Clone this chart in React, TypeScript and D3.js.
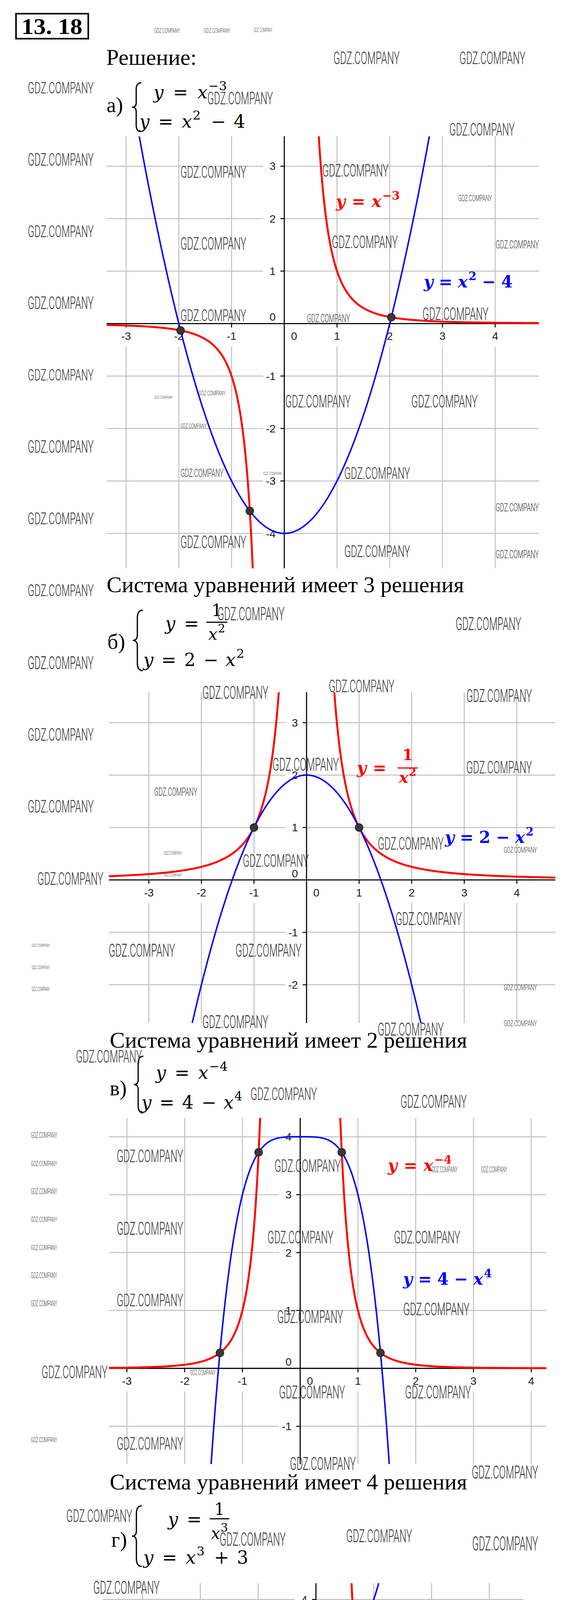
import React from 'react';
import * as d3 from 'd3';

const PAGE_W = 1457;
const PAGE_H = 5601;

// ---------- Chart а: y = x^-3, y = x^2 - 4 ----------
const xDomainA = [-3.37, 4.83];
const yDomainA = [-4.666, 3.569];
const xTicksA = [-3, -2, -1, 1, 2, 3, 4];
const yTicksA = [-4, -3, -2, -1, 1, 2, 3];
const pointsA = [[-1.966, -0.132], [2.03, 0.12], [-0.654, -3.572]];

// ---------- Chart б: y = 1/x^2, y = 2 - x^2 ----------
const xDomainB = [-3.759, 4.733];
const yDomainB = [-2.73, 3.581];
const xTicksB = [-3, -2, -1, 1, 2, 3, 4];
const yTicksB = [-2, -1, 1, 2, 3];
const pointsB = [[-1, 1], [1, 1]];

// ---------- Chart в: y = x^-4, y = 4 - x^4 ----------
const xDomainC = [-3.311, 4.262];
const yDomainC = [-1.653, 4.325];
const xTicksC = [-3, -2, -1, 1, 2, 3, 4];
const yTicksC = [-1, 1, 2, 3, 4];
const pointsC = [[-1.39, 0.268], [-0.72, 3.732], [0.72, 3.732], [1.39, 0.268]];

// ---------- Chart г: y = 1/x^3, y = x^3 + 3 ----------
const xDomainD = [-3.689, 3.588];
const yDomainD = [-2.306, 4.282];
const xTicksD = [-3, -2, -1, 1, 2, 3];
const yTicksD = [-2, -1, 1, 2, 3, 4];
const pointsD = [[-1.489, -0.303], [0.672, 3.303]];

// texts
const captions = [
  'Система уравнений имеет 3 решения',
  'Система уравнений имеет 2 решения',
  'Система уравнений имеет 4 решения',
  'Система уравнений имеет 2 решения',
];
const answers = [
  'а) Система уравнений имеет 3 решения',
  'б) Система уравнений имеет 2 решения',
  'в) Система уравнений имеет 4 решения',
  'г) Система уравнений имеет 2 решения',
];

// watermark boxes [x, top, width, height]
const watermarks = [
  [400,72,67,12],[529,72,68,12],[658,72,49,10],
  [865,132,172,32],[1192,132,171,32],
  [72,210,171,29],[538,235,170,32],[1166,316,169,31],
  [72,393,171,31],[468,425,171,30],[836,421,172,31],[1189,499,87,16],
  [72,577,171,30],[468,608,171,31],[861,604,171,31],[1286,615,112,21],
  [72,760,171,31],[468,792,171,30],[796,804,112,21],[1096,788,171,31],
  [72,945,171,29],[400,1013,48,8],[515,1000,70,12],[740,1012,170,31],[1067,1012,172,31],[468,1084,68,12],
  [72,1128,171,31],[468,1200,112,21],[683,1208,48,8],[893,1196,171,30],[1286,1288,112,21],
  [72,1312,171,30],[468,1372,171,31],[893,1396,171,30],[1286,1408,112,21],[72,1496,171,30],
  [564,1554,174,34],[1182,1580,170,33],[72,1680,171,33],[525,1756,171,33],[853,1741,170,31],[1210,1764,170,33],
  [72,1865,171,31],[707,1940,172,33],[1210,1948,170,32],[400,2016,112,21],[72,2048,171,32],
  [980,2143,171,32],[1307,2168,86,15],[425,2179,47,9],[630,2187,171,32],[97,2233,171,32],[425,2236,47,8],
  [1026,2335,172,33],[82,2416,47,8],[282,2416,172,33],[611,2416,171,33],[82,2472,47,9],[1307,2520,86,15],[82,2527,47,10],
  [525,2599,171,33],[1307,2612,86,15],[980,2618,171,33],[197,2688,171,32],
  [650,2784,172,32],[1039,2803,172,33],
  [80,2899,68,14],[80,2972,68,13],[80,3043,68,14],[80,3115,68,13],[80,3187,68,13],[80,3258,68,14],[80,3330,68,14],
  [303,2943,172,32],[712,2968,172,32],[1120,2987,67,14],[1248,2987,68,14],
  [303,3128,172,33],[694,3151,171,32],[1022,3151,172,32],
  [303,3312,172,32],[719,3354,171,33],[1046,3335,172,32],
  [108,3496,171,32],[493,3507,66,13],[724,3547,171,33],[1051,3547,171,33],
  [80,3679,68,13],[303,3679,172,32],[752,3730,171,33],[1224,3752,172,33],[172,3865,171,31],
  [570,3923,171,34],[898,3915,171,33],[1225,3934,171,35],[242,4047,172,33],[735,4106,172,33],[1090,4118,172,34],
  [72,4231,113,22],[340,4231,170,32],[747,4290,171,34],[1090,4301,172,35],[72,4351,113,23],
  [343,4415,172,33],[75,4471,113,23],[764,4473,171,35],[1090,4485,172,34],
  [75,4591,113,22],[343,4598,172,34],[712,4684,111,21],[980,4675,172,33],[1311,4691,87,16],[75,4711,113,23],
  [343,4782,172,33],[72,4831,113,23],[764,4858,171,34],[1090,4858,172,34],
  [72,4952,113,21],[340,4967,170,33],[1225,5045,171,30],
  [804,5095,171,31],[149,5152,171,30],[477,5152,172,30],[1225,5228,171,30],
  [116,5335,112,22],[384,5336,171,29],[865,5330,171,29],[1225,5413,171,29],[116,5455,112,21],
  [724,5512,68,12],[905,5512,89,15],
];
const WM_XF = 0.987;

const RED = '#ff0000';
const BLUE = '#0000ff';
const GRID = '#c0c0c0';
const SERIF = '"Liberation Serif", "Times New Roman", serif';
const MATH = '"DejaVu Serif", serif';
const SANS = '"Liberation Sans", Arial, sans-serif';

type Frame = { left: number; right: number; top: number; bottom: number };

function sample(f: (x: number) => number, dom: number[], singular: boolean, yDom: number[]) {
  const step = (dom[1] - dom[0]) / 5000;
  const segs = singular ? [[dom[0], -1e-3], [1e-3, dom[1]]] : [[dom[0], dom[1]]];
  return segs.map(([a, b]) =>
    d3.range(a, b, step).concat([b]).map((x) => {
      const y = f(x);
      return [x, Math.max(yDom[0] - 1, Math.min(yDom[1] + 1, y))];
    })
  );
}

function Chart(props: {
  id: string; frame: Frame; xDomain: number[]; yDomain: number[];
  xTicks: number[]; yTicks: number[];
  red: (x: number) => number; blue: (x: number) => number;
  redSingular: boolean; points: number[][];
}) {
  const { id, frame, xDomain, yDomain, xTicks, yTicks, red, blue, redSingular, points } = props;
  const xs = d3.scaleLinear().domain(xDomain).range([frame.left, frame.right]);
  const ys = d3.scaleLinear().domain(yDomain).range([frame.bottom, frame.top]);
  const x0 = xs(0);
  const y0 = ys(0);
  const line = d3.line<number[]>().x((d) => xs(d[0])).y((d) => ys(d[1]));
  const redSegs = sample(red, xDomain, redSingular, yDomain);
  const blueSegs = sample(blue, xDomain, false, yDomain);
  const fmt = (t: number) => (t < 0 ? '-' + Math.abs(t) : String(t));
  return (
    <g>
      <defs>
        <clipPath id={id}>
          <rect x={frame.left} y={frame.top} width={frame.right - frame.left} height={frame.bottom - frame.top} />
        </clipPath>
      </defs>
      {xTicks.map((t) => (
        <line key={'gx' + t} x1={xs(t)} x2={xs(t)} y1={frame.top} y2={frame.bottom} stroke={GRID} strokeWidth={2.5} />
      ))}
      {yTicks.map((t) => (
        <line key={'gy' + t} x1={frame.left} x2={frame.right} y1={ys(t)} y2={ys(t)} stroke={GRID} strokeWidth={2.5} />
      ))}
      {xTicks.map((t) => (
        <rect key={'bx' + t} x={xs(t) - 24} y={y0 + 3} width={48} height={56} fill="#fff" />
      ))}
      <rect x={x0 + 8} y={y0 + 3} width={36} height={56} fill="#fff" />
      {yTicks.map((t) => (
        <rect key={'by' + t} x={x0 - 54} y={ys(t) - 16} width={52} height={32} fill="#fff" />
      ))}
      <rect x={x0 - 46} y={y0 - 36} width={42} height={32} fill="#fff" />
      {xTicks.map((t) => (
        <text key={'tx' + t} x={xs(t)} y={y0 + 42} textAnchor="middle" fontFamily={SANS} fontSize={28} fill="#1a1a1a">
          {fmt(t)}
        </text>
      ))}
      <text x={x0 + 25} y={y0 + 42} textAnchor="middle" fontFamily={SANS} fontSize={28} fill="#1a1a1a">0</text>
      {yTicks.map((t) => (
        <text key={'ty' + t} x={x0 - 22} y={ys(t) + 10} textAnchor="end" fontFamily={SANS} fontSize={28} fill="#1a1a1a">
          {fmt(t)}
        </text>
      ))}
      <text x={x0 - 22} y={y0 - 7} textAnchor="end" fontFamily={SANS} fontSize={28} fill="#1a1a1a">0</text>
      {yTicks.map((t) => (
        <line key={'ky' + t} x1={x0 - 10} x2={x0} y1={ys(t)} y2={ys(t)} stroke="#000" strokeWidth={2.5} />
      ))}
      {xTicks.map((t) => (
        <line key={'kx' + t} x1={xs(t)} x2={xs(t)} y1={y0} y2={y0 + 10} stroke="#000" strokeWidth={2.5} />
      ))}
      <line x1={frame.left} x2={frame.right} y1={y0} y2={y0} stroke="#000" strokeWidth={2.8} />
      <line x1={x0} x2={x0} y1={frame.top} y2={frame.bottom} stroke="#000" strokeWidth={2.8} />
      <g clipPath={`url(#${id})`}>
        {redSegs.map((s, i) => (
          <path key={'r' + i} d={line(s) || ''} fill="none" stroke={RED} strokeWidth={5} strokeLinejoin="round" />
        ))}
        {blueSegs.map((s, i) => (
          <path key={'b' + i} d={line(s) || ''} fill="none" stroke={BLUE} strokeWidth={3.8} strokeLinejoin="round" />
        ))}
      </g>
      {points.map((p, i) => (
        <circle key={'p' + i} cx={xs(p[0])} cy={ys(p[1])} r={10} fill="#383838" stroke="#1a1a1a" strokeWidth={1.5} />
      ))}
    </g>
  );
}

type Part = { t: string; i?: boolean; sup?: boolean; dx?: number };

function MathText(props: {
  x: number; y: number; size: number; parts: Part[]; fill?: string; bold?: boolean; anchor?: string;
}) {
  const { x, y, size, parts, fill = '#000', bold = false, anchor = 'start' } = props;
  let raised = false;
  return (
    <text x={x} y={y} fontFamily={MATH} fontSize={size} fill={fill} fontWeight={bold ? 'bold' : 'normal'}
      textAnchor={anchor} style={{ whiteSpace: 'pre' }}>
      {parts.map((p, k) => {
        let dy = 0;
        if (p.sup && !raised) { dy = -size * 0.45; raised = true; }
        else if (!p.sup && raised) { dy = size * 0.45; raised = false; }
        return (
          <tspan key={k} dx={p.dx || 0} dy={dy} fontStyle={p.i ? 'italic' : 'normal'} fontSize={p.sup ? size * 0.7 : size}>
            {p.t}
          </tspan>
        );
      })}
    </text>
  );
}

function Brace(props: { x: number; top: number; bottom: number; w: number }) {
  const { x, top, bottom, w } = props;
  const h = bottom - top;
  const m = (top + bottom) / 2;
  const c = x + w * 0.45;
  const d = `M${x + w},${top} Q${c},${top} ${c},${top + h * 0.13} L${c},${m - h * 0.09} Q${c},${m} ${x},${m}` +
    ` Q${c},${m} ${c},${m + h * 0.09} L${c},${bottom - h * 0.13} Q${c},${bottom} ${x + w},${bottom}`;
  return <path d={d} fill="none" stroke="#000" strokeWidth={3.2} />;
}

function Fraction(props: {
  cx: number; barY: number; num: Part[]; den: Part[]; size: number; fill?: string; bold?: boolean; w: number;
  numBase: number; denBase: number;
}) {
  const { cx, barY, num, den, size, fill = '#000', bold = false, w, numBase, denBase } = props;
  return (
    <g>
      <MathText x={cx} y={numBase} size={size} parts={num} fill={fill} bold={bold} anchor="middle" />
      <line x1={cx - w / 2} x2={cx + w / 2} y1={barY} y2={barY} stroke={fill} strokeWidth={3} />
      <MathText x={cx} y={denBase} size={size} parts={den} fill={fill} bold={bold} anchor="middle" />
    </g>
  );
}

const EQ = 46; // equation font size
const LB = 42; // curve label font size

export default function App() {
  return (
    <div style={{ position: 'absolute', left: 0, top: 0 }}>
      <svg width={PAGE_W} height={PAGE_H} viewBox={`0 0 ${PAGE_W} ${PAGE_H}`} style={{ display: 'block', background: '#fff' }}>
        <rect x={0} y={0} width={PAGE_W} height={PAGE_H} fill="#fff" />
        {/* Header */}
        <rect x={41} y={35} width={185} height={64} fill="none" stroke="#000" strokeWidth={4} />
        <text x={55} y={87} fontFamily={SERIF} fontWeight="bold" fontSize={58} textLength={156} lengthAdjust="spacingAndGlyphs">13. 18</text>
        <text x={272} y={166} fontFamily={SERIF} fontSize={58}>Решение:</text>

        {/* а) system */}
        <text x={273} y={287} fontFamily={SERIF} fontSize={54}>а)</text>
        <Brace x={338} top={212} bottom={337} w={24} />
        <MathText x={393} y={252} size={EQ} parts={[{ t: 'y', i: true }, { t: '=', dx: 24 }, { t: 'x', i: true, dx: 24 }, { t: '−3', sup: true, dx: 2 }]} />
        <MathText x={357} y={327} size={EQ} parts={[{ t: 'y', i: true }, { t: '=', dx: 22 }, { t: 'x', i: true, dx: 22 }, { t: '2', sup: true, dx: 2 }, { t: '−', dx: 26 }, { t: '4', dx: 20 }]} />

        <Chart id="clipA" frame={{ left: 273, right: 1380, top: 349, bottom: 1455 }} xDomain={xDomainA} yDomain={yDomainA}
          xTicks={xTicksA} yTicks={yTicksA} red={(x) => 1 / (x * x * x)} blue={(x) => x * x - 4} redSingular={true} points={pointsA} />
        <MathText x={860} y={530} size={LB} bold fill={RED} parts={[{ t: 'y', i: true }, { t: '=', dx: 16 }, { t: 'x', i: true, dx: 16 }, { t: '−3', sup: true, dx: 2 }]} />
        <MathText x={1085} y={736} size={LB} bold fill={BLUE} parts={[{ t: 'y', i: true }, { t: '=', dx: 14 }, { t: 'x', i: true, dx: 14 }, { t: '2', sup: true, dx: 2 }, { t: '−', dx: 14 }, { t: '4', dx: 14 }]} />
        <text x={273} y={1516} fontFamily={SERIF} fontSize={58}>{captions[0]}</text>

        {/* б) system */}
        <text x={275} y={1661} fontFamily={SERIF} fontSize={54}>б)</text>
        <Brace x={340} top={1562} bottom={1717} w={26} />
        <MathText x={423} y={1612} size={EQ} parts={[{ t: 'y', i: true }, { t: '=', dx: 22 }]} />
        <Fraction cx={555} barY={1593} w={54} size={42} numBase={1577} denBase={1638} num={[{ t: '1' }]} den={[{ t: 'x', i: true }, { t: '2', sup: true, dx: 1 }]} />
        <MathText x={367} y={1705} size={EQ} parts={[{ t: 'y', i: true }, { t: '=', dx: 20 }, { t: '2', dx: 20 }, { t: '−', dx: 20 }, { t: 'x', i: true, dx: 18 }, { t: '2', sup: true, dx: 2 }]} />

        <Chart id="clipB" frame={{ left: 279, right: 1422, top: 1772, bottom: 2619 }} xDomain={xDomainB} yDomain={yDomainB}
          xTicks={xTicksB} yTicks={yTicksB} red={(x) => 1 / (x * x)} blue={(x) => 2 - x * x} redSingular={true} points={pointsB} />
        <MathText x={914} y={1980} size={LB} bold fill={RED} parts={[{ t: 'y', i: true }, { t: '=', dx: 16 }]} />
        <Fraction cx={1044} barY={1966} w={52} size={40} bold fill={RED} numBase={1946} denBase={2004} num={[{ t: '1' }]} den={[{ t: 'x', i: true }, { t: '2', sup: true, dx: 1 }]} />
        <MathText x={1139} y={2158} size={LB} bold fill={BLUE} parts={[{ t: 'y', i: true }, { t: '=', dx: 14 }, { t: '2', dx: 14 }, { t: '−', dx: 14 }, { t: 'x', i: true, dx: 14 }, { t: '2', sup: true, dx: 2 }]} />
        <text x={281} y={2682} fontFamily={SERIF} fontSize={58}>{captions[1]}</text>

        {/* в) system */}
        <text x={281} y={2804} fontFamily={SERIF} fontSize={54}>в)</text>
        <Brace x={343} top={2704} bottom={2849} w={24} />
        <MathText x={399} y={2762} size={EQ} parts={[{ t: 'y', i: true }, { t: '=', dx: 22 }, { t: 'x', i: true, dx: 22 }, { t: '−4', sup: true, dx: 2 }]} />
        <MathText x={362} y={2838} size={EQ} parts={[{ t: 'y', i: true }, { t: '=', dx: 20 }, { t: '4', dx: 20 }, { t: '−', dx: 20 }, { t: 'x', i: true, dx: 18 }, { t: '4', sup: true, dx: 2 }]} />

        <Chart id="clipC" frame={{ left: 279, right: 1399, top: 2862, bottom: 3748 }} xDomain={xDomainC} yDomain={yDomainC}
          xTicks={xTicksC} yTicks={yTicksC} red={(x) => 1 / (x * x * x * x)} blue={(x) => 4 - x * x * x * x} redSingular={true} points={pointsC} />
        <MathText x={993} y={2998} size={LB} bold fill={RED} parts={[{ t: 'y', i: true }, { t: '=', dx: 16 }, { t: 'x', i: true, dx: 16 }, { t: '−4', sup: true, dx: 2 }]} />
        <MathText x={1032} y={3289} size={LB} bold fill={BLUE} parts={[{ t: 'y', i: true }, { t: '=', dx: 14 }, { t: '4', dx: 14 }, { t: '−', dx: 14 }, { t: 'x', i: true, dx: 14 }, { t: '4', sup: true, dx: 2 }]} />
        <text x={281} y={3813} fontFamily={SERIF} fontSize={58}>{captions[2]}</text>

        {/* г) system */}
        <text x={285} y={3960} fontFamily={SERIF} fontSize={54}>г)</text>
        <Brace x={338} top={3855} bottom={4010} w={25} />
        <MathText x={430} y={3905} size={EQ} parts={[{ t: 'y', i: true }, { t: '=', dx: 22 }]} />
        <Fraction cx={562} barY={3888} w={50} size={42} numBase={3878} denBase={3940} num={[{ t: '1' }]} den={[{ t: 'x', i: true }, { t: '3', sup: true, dx: 1 }]} />
        <MathText x={367} y={4003} size={EQ} parts={[{ t: 'y', i: true }, { t: '=', dx: 22 }, { t: 'x', i: true, dx: 22 }, { t: '3', sup: true, dx: 2 }, { t: '+', dx: 24 }, { t: '3', dx: 20 }]} />

        <Chart id="clipD" frame={{ left: 263, right: 1340, top: 4053, bottom: 5030 }} xDomain={xDomainD} yDomain={yDomainD}
          xTicks={xTicksD} yTicks={yTicksD} red={(x) => 1 / (x * x * x)} blue={(x) => x * x * x + 3} redSingular={true} points={pointsD} />
        <MathText x={371} y={4382} size={LB} bold fill={BLUE} parts={[{ t: 'y', i: true }, { t: '=', dx: 14 }, { t: 'x', i: true, dx: 14 }, { t: '3', sup: true, dx: 2 }, { t: '+', dx: 14 }, { t: '3', dx: 14 }]} />
        <MathText x={983} y={4424} size={LB} bold fill={RED} parts={[{ t: 'y', i: true }, { t: '=', dx: 16 }]} />
        <Fraction cx={1112} barY={4411} w={54} size={40} bold fill={RED} numBase={4392} denBase={4452} num={[{ t: '1' }]} den={[{ t: 'x', i: true }, { t: '3', sup: true, dx: 1 }]} />
        <text x={266} y={5093} fontFamily={SERIF} fontSize={58}>{captions[3]}</text>

        {/* Answer */}
        <text x={266} y={5248} fontFamily={SERIF} fontSize={58}>Ответ:</text>
        {answers.map((a, i) => (
          <text key={a} x={266} y={5326 + i * 77} fontFamily={SERIF} fontSize={58}>{a}</text>
        ))}

        {/* watermarks */}
        {watermarks.map((w, i) => (
          <text key={'wm' + i} x={w[0] * WM_XF} y={w[1] + w[3]} fontFamily="Roboto, sans-serif" fontWeight={300}
            fontSize={w[3] / 0.711} fill="#333" textLength={w[2] * WM_XF} lengthAdjust="spacingAndGlyphs">GDZ.COMPANY</text>
        ))}
      </svg>
    </div>
  );
}
